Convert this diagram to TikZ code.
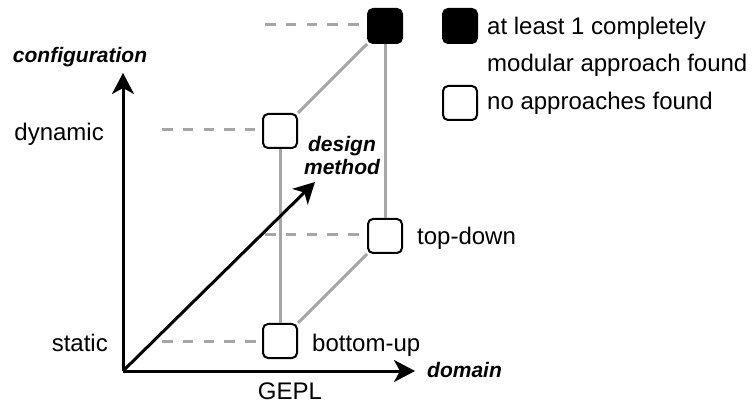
\documentclass[tikz,border=0pt]{standalone}
\usepackage{fontspec}
\setmainfont{Liberation Sans}
\usetikzlibrary{arrows.meta}
\tikzset{
  cell/.style={draw=black, line width=2pt, rounded corners=5pt, minimum size=34pt, inner sep=0pt, fill=white},
  fullcell/.style={cell, fill=black},
  axis/.style={line width=3pt, -{Stealth[length=21pt, width=22pt, inset=6pt]}},
  guide/.style={draw={rgb,255:red,166;green,166;blue,166}, line width=3pt, dash pattern=on 10.5pt off 10.3pt},
  edge/.style={draw={rgb,255:red,166;green,166;blue,166}, line width=3pt},
  lbl/.style={inner sep=0pt, font=\fontsize{24}{28}\selectfont},
  axlbl/.style={inner sep=0pt, font=\fontsize{21}{22}\selectfont\bfseries\itshape},
}
\begin{document}
\begin{tikzpicture}[x=1pt, y=-1pt]
\useasboundingbox (0,0) rectangle (755,403);

% cells of the design space
\node[cell] (bu) at (280,341) {};
\node[cell] (dyn) at (280,131) {};
\node[cell] (td) at (385,236) {};
\node[fullcell] (full) at (385,26) {};

% cube edges
\draw[edge] (dyn.south) -- (bu.north);
\draw[edge] (full.south) -- (td.north);
\draw[edge] (dyn.north east) -- (full.south west);
\draw[edge] (bu.north east) -- (td.south west);

% level guides
\coordinate (gtop) at (265,25);
\coordinate (gdyn) at (162,130);
\coordinate (gtd) at (265,235);
\coordinate (gst) at (162,341);
\draw[guide] (gtop) -- ([xshift=-3pt]full.west |- gtop);
\draw[guide] (gdyn) -- ([xshift=-7pt]dyn.west |- gdyn);
\draw[guide] (gtd) -- ([xshift=-6pt]td.west |- gtd);
\draw[guide] (gst) -- ([xshift=-6pt]bu.west |- gst);

% axes
\coordinate (O) at (123,371);
\coordinate (ytip) at (123,73);
\coordinate (xtip) at (415,371);
\coordinate (dtip) at (315,182);
\draw[axis] (O) -- (ytip);
\draw[axis] (O) -- (xtip);
\draw[axis] (O) -- (dtip);

% axis labels
\node[axlbl, anchor=base] (lconf) at (80,63) {configuration};
\node[axlbl, anchor=base west] (ldom) at (427,377) {domain};
\node[axlbl, anchor=base] (ldes) at (342,152) {design};
\node[axlbl, anchor=base] (lmeth) at (342,175) {method};

% value labels
\node[lbl, anchor=base east] (ldyn) at (104,141) {dynamic};
\node[lbl, anchor=base east] (lst) at (108,351) {static};
\node[lbl, anchor=base] (lgepl) at (290,399) {GEPL};
\node[lbl, anchor=base west] (ltd) at (417,245) {top-down};
\node[lbl, anchor=base west] (lbu) at (312,351) {bottom-up};

% legend
\node[fullcell] (kfull) at (460,26) {};
\node[cell] (kempty) at (460,103) {};
\node[lbl, anchor=base west] (k1a) at (487,35) {at least 1 completely};
\node[lbl, anchor=base west] (k1b) at (487,72) {modular approach found};
\node[lbl, anchor=base west] (k2) at (487,110) {no approaches found};
\end{tikzpicture}
\end{document}
